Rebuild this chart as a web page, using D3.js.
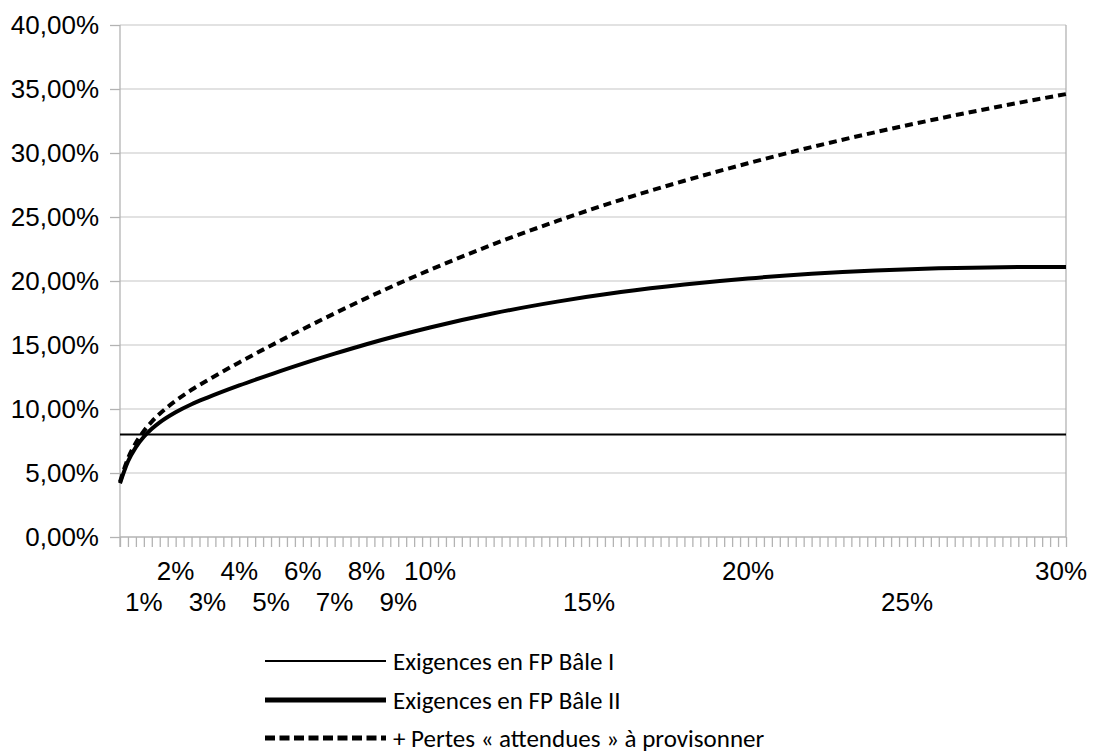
<!DOCTYPE html>
<html><head><meta charset="utf-8">
<script src="https://cdn.jsdelivr.net/npm/d3@7"></script>
<style>body{margin:0;background:#fff}</style>
</head><body><svg id="c" width="1096" height="755"></svg>
<script>
// Probabilité de défaut (%)
const pd = [0.25,0.5,0.75,1,1.25,1.5,2,2.5,3,4,5,6,7,8,9,10,12,14,16,18,20,22,24,26,28,30];
// Exigences en FP Bâle II (%)
const baleII = [4.20,5.90,7.02,7.83,8.45,8.95,9.74,10.37,10.89,11.84,12.71,13.54,14.32,15.06,15.74,16.37,17.48,18.39,19.14,19.73,20.20,20.56,20.82,20.99,21.08,21.10];
// + Pertes « attendues » à provisonner (%)
const avecPertes = [4.31,6.13,7.36,8.28,9.01,9.63,10.64,11.50,12.24,13.64,14.96,16.24,17.47,18.66,19.79,20.87,22.88,24.69,26.34,27.83,29.20,30.46,31.62,32.69,33.68,34.60];
// Exigences en FP Bâle I (%)
const baleIPd = [0.25, 30];
const baleI = [8, 8];
const yTicks = [0,5,10,15,20,25,30,35,40];
const xLabelsUpper = [2,4,6,8,10,20,30];
const xLabelsLower = [1,3,5,7,9,15,25];
const seriesNames = ["Exigences en FP Bâle I","Exigences en FP Bâle II","+ Pertes « attendues » à provisonner"];

const svg = d3.select("#c");
const L = 120, R = 1066, T = 25, B = 537;
const x = d3.scaleLinear().domain([0.25, 30]).range([L, R]);
const y = d3.scaleLinear().domain([0, 40]).range([B, T]);
const grid = "#d9d9d9", axisC = "#b3b3b3";
const arial = "Liberation Sans, Arial, sans-serif";

// horizontal gridlines
svg.append("g").selectAll("line").data(yTicks).join("line")
  .attr("x1", L).attr("x2", R).attr("y1", d=>y(d)).attr("y2", d=>y(d))
  .attr("stroke", d=>d===0?axisC:grid).attr("stroke-width",1.3);
// right border
svg.append("line").attr("x1",R).attr("x2",R).attr("y1",T).attr("y2",B).attr("stroke",axisC).attr("stroke-width",1.3);

// y axis
const yAxis = d3.axisLeft(y).tickValues(yTicks).tickSize(10).tickPadding(11)
  .tickFormat(d=>d.toFixed(2).replace(".",",")+"%");
const gy = svg.append("g").attr("transform",`translate(${L},0)`).call(yAxis);
gy.select(".domain").attr("stroke",axisC).attr("stroke-width",1.3).attr("d",`M0,${T}V${B+10}`);
gy.selectAll(".tick line").attr("stroke",axisC).attr("stroke-width",1.3);
gy.selectAll("text").attr("font-family",arial).attr("font-size",26).attr("fill","#000");

// x minor ticks
const minor = d3.range(0.25, 30.001, 0.25);
const xAxis = d3.axisBottom(x).tickValues(minor).tickSize(10).tickFormat("");
const gx = svg.append("g").attr("transform",`translate(0,${B})`).call(xAxis);
gx.select(".domain").remove();
gx.selectAll(".tick line").attr("stroke",axisC).attr("stroke-width",1.3);

// x labels
function lbl(vals, yy){
  svg.append("g").selectAll("text").data(vals).join("text")
    .attr("x", d=>Math.min(x(d), 1061)).attr("y", yy)
    .attr("text-anchor","middle")
    .attr("font-family",arial).attr("font-size",26)
    .text(d=>d+"%");
}
lbl(xLabelsUpper, 580);
lbl(xLabelsLower, 611);

// lines
const line = d3.line().x(d=>x(d[0])).y(d=>y(d[1])).curve(d3.curveMonotoneX);
svg.append("path").datum(baleIPd.map((p,i)=>[p,baleI[i]])).attr("d",line)
  .attr("fill","none").attr("stroke","#000").attr("stroke-width",2);
svg.append("path").datum(pd.map((p,i)=>[p,avecPertes[i]])).attr("d",line)
  .attr("fill","none").attr("stroke","#000").attr("stroke-width",4).attr("stroke-dasharray","8,5");
svg.append("path").datum(pd.map((p,i)=>[p,baleII[i]])).attr("d",line)
  .attr("fill","none").attr("stroke","#000").attr("stroke-width",4);

// legend
const leg = svg.append("g");
const rows = [661, 700, 738];
const styles = [{w:2,d:null},{w:5,d:null},{w:5,d:"10,4.5"}];
seriesNames.forEach((n,i)=>{
  leg.append("line").attr("x1",265).attr("x2",386).attr("y1",rows[i]).attr("y2",rows[i])
    .attr("stroke","#000").attr("stroke-width",styles[i].w).attr("stroke-dasharray",styles[i].d);
  leg.append("text").attr("x",393).attr("y",rows[i]+9)
    .attr("font-family","Carlito, Calibri, Lato, sans-serif").attr("font-size",25).text(n);
});
</script></body></html>
